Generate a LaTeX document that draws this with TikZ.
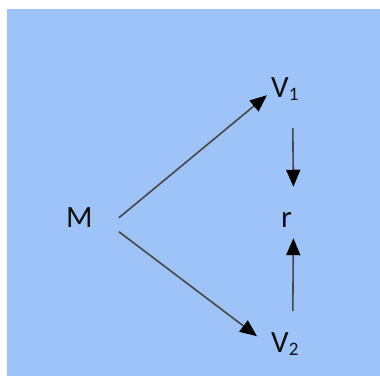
\documentclass[tikz,border=0pt]{standalone}
\usepackage{fontspec}
\setmainfont{Carlito}
\usetikzlibrary{arrows.meta}
\definecolor{sky}{HTML}{9EC3F8}
\definecolor{shaft}{HTML}{474747}
\definecolor{ink}{HTML}{111111}
\newcommand{\idx}[1]{\raisebox{-3pt}{\fontsize{19}{19}\selectfont #1}}

\begin{document}
\begin{tikzpicture}[x=1pt,y=-1pt,
  lbl/.style={inner sep=0pt,anchor=base west,text=ink,font=\fontsize{31}{37}\selectfont},
  arr/.style={draw=shaft,line width=1.6pt,-{Triangle[length=17pt,width=14pt,color=black]}}]
\useasboundingbox (0,0) rectangle (380,376);
\fill[sky] (7,9) rectangle (380,376);

% ---------------- labels
\node[lbl] (M)  at (66,227)  {M};
\node[lbl] (V1) at (271,97)  {V\idx{1}};
\node[lbl] (r)  at (281,227) {r};
\node[lbl] (V2) at (271,352) {V\idx{2}};

% ---------------- connectors
\draw[arr] ([shift={(26,0.7)}]M.east)  -- ([shift={(-4,-5)}]V1.south west);
\draw[arr] ([shift={(26,14.7)}]M.east) -- ([shift={(-14,4.3)}]V2.north west);
\draw[arr] ([shift={(8,28)}]V1.south)  -- ([shift={(6.8,-25)}]r.north);
\draw[arr] ([shift={(8,-20.7)}]V2.north) -- ([shift={(6.8,11)}]r.south);
\end{tikzpicture}
\end{document}
